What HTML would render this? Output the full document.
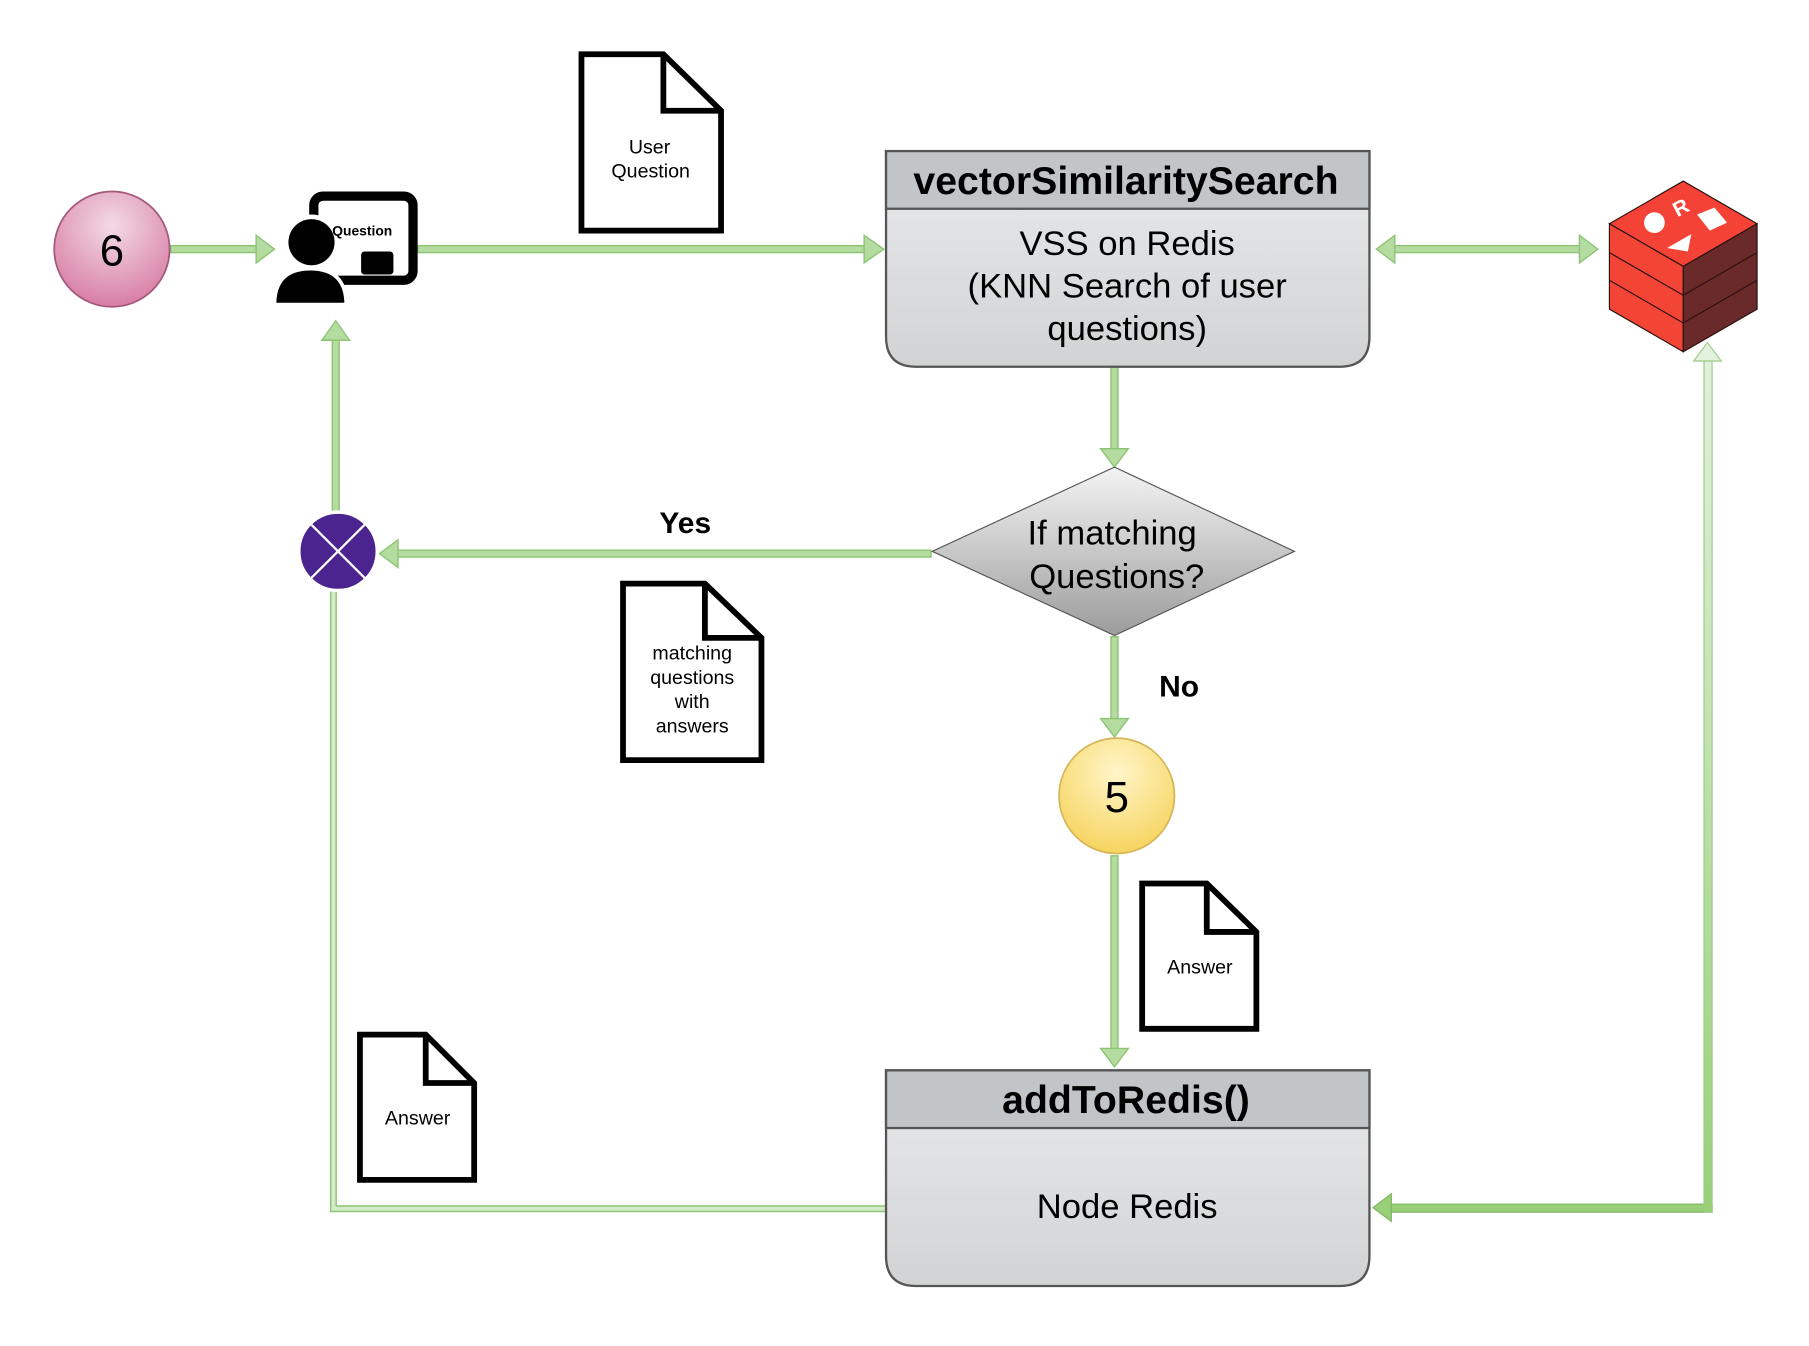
<!DOCTYPE html>
<html><head><meta charset="utf-8"><style>
html,body{margin:0;padding:0;background:#fff;}
svg{display:block;}
text{font-family:"Liberation Sans",sans-serif;}
</style></head><body>
<svg width="1809" height="1346" viewBox="0 0 1568 1167" preserveAspectRatio="none" xmlns="http://www.w3.org/2000/svg">
<defs>
<radialGradient id="pink" cx="50%" cy="30%" r="70%"><stop offset="0" stop-color="#f3dbe6"/><stop offset="1" stop-color="#d87ea6"/></radialGradient>
<radialGradient id="yel" cx="50%" cy="30%" r="70%"><stop offset="0" stop-color="#fff6c9"/><stop offset="1" stop-color="#f7d460"/></radialGradient>
<linearGradient id="gbody" x1="0" y1="0" x2="0" y2="1"><stop offset="0" stop-color="#e8eaec"/><stop offset="1" stop-color="#d2d3d4"/></linearGradient>
<linearGradient id="gdia" x1="0" y1="0" x2="0" y2="1"><stop offset="0" stop-color="#f4f4f4"/><stop offset="1" stop-color="#9c9c9c"/></linearGradient>
<linearGradient id="gvert" x1="0" y1="1" x2="0" y2="0"><stop offset="0" stop-color="#97d077"/><stop offset="1" stop-color="#e3f1dc"/></linearGradient>
</defs>

<g fill="#b5dca0" stroke="#8cc474" stroke-width="1.2">
<rect x="148" y="213" width="75" height="6"/>
<polygon points="222,204 238,216 222,228"/>
<rect x="362" y="213" width="388" height="6"/>
<polygon points="749,204 766,216 749,228"/>
<rect x="1208" y="213" width="162" height="6"/>
<polygon points="1209,204 1193,216 1209,228"/>
<polygon points="1369,204 1385,216 1369,228"/>
<rect x="963" y="318" width="6" height="72"/>
<polygon points="954,389 966,405 978,389"/>
<rect x="344" y="477" width="463" height="6"/>
<polygon points="345,468 329,480 345,492"/>
<rect x="288" y="294" width="6" height="150"/>
<polygon points="279,295 291,278 303,295"/>
<rect x="963" y="552" width="6" height="72"/>
<polygon points="954,623 966,639 978,623"/>
<rect x="963" y="742" width="6" height="168"/>
<polygon points="954,909 966,925 978,909"/>
</g>
<polyline points="768,1048 289,1048 289,512" fill="none" stroke="#8cc474" stroke-width="6"/>
<polyline points="768,1048 289,1048 289,512" fill="none" stroke="#d4ecc9" stroke-width="3.5"/>
<rect x="1205" y="1044" width="279" height="7" fill="#97d077" stroke="#82b366" stroke-width="1"/>
<rect x="1477" y="312" width="7" height="739" fill="url(#gvert)" stroke="#9ccb86" stroke-width="1"/>
<polygon points="1206,1035 1190,1047 1206,1059" fill="#97d077" stroke="#82b366"/>
<polygon points="1468,313 1480,297 1492,313" fill="#e3f1dc" stroke="#9ccb86"/>

<circle cx="97" cy="216" r="50" fill="url(#pink)" stroke="#a3577b" stroke-width="1.5"/>
<text x="97" y="230" font-size="38" text-anchor="middle">6</text>

<rect x="272" y="170" width="86" height="73" rx="8" fill="none" stroke="#000" stroke-width="8"/>
<rect x="313" y="218" width="28" height="20" rx="3" fill="#000"/>
<circle cx="270" cy="210" r="24" fill="#fff"/>
<circle cx="270" cy="210" r="20" fill="#000"/>
<path d="M238,264 Q238,233 269,233 Q300,233 300,264 Z" fill="#000" stroke="#fff" stroke-width="3"/>
<text x="314" y="204" font-size="12" font-weight="bold" text-anchor="middle">Question</text>

<g fill="#fff" stroke="#000" stroke-width="5" stroke-linejoin="miter">
<path d="M504,47 L575,47 L625,96 L625,200 L504,200 Z"/><path d="M575,47 L575,96 L625,96" fill="none"/>
<path d="M540,506 L611,506 L660,553 L660,659 L540,659 Z"/><path d="M611,506 L611,553 L660,553" fill="none"/>
<path d="M990,766 L1046,766 L1089,808 L1089,892 L990,892 Z"/><path d="M1046,766 L1046,808 L1089,808" fill="none"/>
<path d="M312,897 L369,897 L411,939 L411,1023 L312,1023 Z"/><path d="M369,897 L369,939 L411,939" fill="none"/>
</g>
<g font-size="17" text-anchor="middle">
<text x="563" y="133">User</text><text x="564" y="154">Question</text>
<text x="600" y="572">matching</text><text x="600" y="593">questions</text><text x="600" y="614">with</text><text x="600" y="635">answers</text>
<text x="1040" y="844">Answer</text>
<text x="362" y="975">Answer</text>
</g>

<path d="M768,131 H1187 V292 Q1187,318 1161,318 H794 Q768,318 768,292 Z" fill="url(#gbody)" stroke="#555" stroke-width="2"/>
<rect x="768" y="131" width="419" height="50" fill="#c2c5c8" stroke="#555" stroke-width="2"/>
<text x="976" y="168" font-size="34" font-weight="bold" text-anchor="middle">vectorSimilaritySearch</text>
<g font-size="30" text-anchor="middle">
<text x="977" y="221">VSS on Redis</text>
<text x="977" y="258">(KNN Search of user</text>
<text x="977" y="295">questions)</text>
</g>

<path d="M768,928 H1187 V1089 Q1187,1115 1161,1115 H794 Q768,1115 768,1089 Z" fill="url(#gbody)" stroke="#555" stroke-width="2"/>
<rect x="768" y="928" width="419" height="50" fill="#c2c5c8" stroke="#555" stroke-width="2"/>
<text x="976" y="965" font-size="34" font-weight="bold" text-anchor="middle">addToRedis()</text>
<text x="977" y="1056" font-size="30" text-anchor="middle">Node Redis</text>

<polygon points="966,405 1122,478 966,551 808,478" fill="url(#gdia)" stroke="#555" stroke-width="1"/>
<text x="964" y="472" font-size="30" text-anchor="middle">If matching</text>
<text x="968" y="510" font-size="30" text-anchor="middle">Questions?</text>

<text x="594" y="462" font-size="26" font-weight="bold" text-anchor="middle">Yes</text>
<text x="1022" y="604" font-size="26" font-weight="bold" text-anchor="middle">No</text>

<circle cx="293" cy="478" r="34" fill="#4b2490" stroke="#fff" stroke-width="3"/>
<line x1="270" y1="455" x2="316" y2="501" stroke="#fff" stroke-width="2"/>
<line x1="316" y1="455" x2="270" y2="501" stroke="#fff" stroke-width="2"/>

<circle cx="968" cy="690" r="50" fill="url(#yel)" stroke="#d6b656" stroke-width="1.5"/>
<text x="968" y="704" font-size="38" text-anchor="middle">5</text>

<g stroke="#2a1010" stroke-width="1">
<polygon points="1395,194 1459,157 1523,194 1459,231" fill="#f44336"/>
<polygon points="1395,194 1459,231 1459,305 1395,268" fill="#f24535"/>
<polygon points="1459,231 1523,194 1523,268 1459,305" fill="#6b2a2a"/>
<polyline points="1395,219 1459,256 1523,219" fill="none"/>
<polyline points="1395,243 1459,280 1523,243" fill="none"/>
</g>
<circle cx="1434" cy="193" r="9" fill="#fff"/>
<polygon points="1471,186 1486,180 1497,193 1482,200" fill="#fff"/>
<polygon points="1445,215 1466,203 1463,218" fill="#fff"/>
<text x="1457" y="186" font-size="18" font-weight="bold" fill="#fff" text-anchor="middle" transform="rotate(-28 1457 180)">R</text>
</svg>
</body></html>
